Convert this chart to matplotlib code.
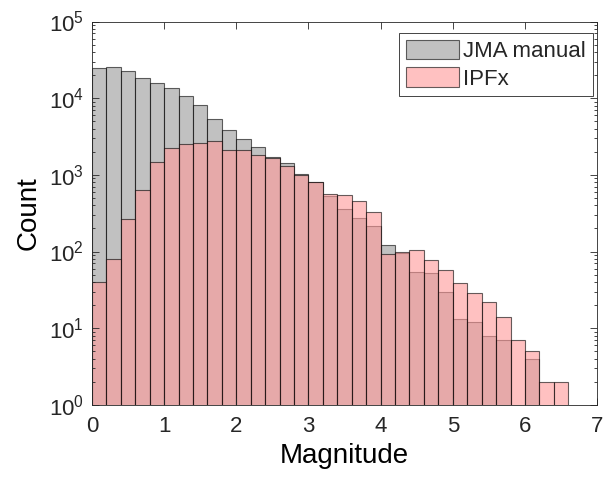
import numpy as np
import matplotlib.pyplot as plt
import matplotlib as mpl
from matplotlib.ticker import LogLocator, NullFormatter

mpl.rcParams.update({
    "font.family": ["Liberation Sans", "DejaVu Sans"],
    "mathtext.fontset": "custom",
    "mathtext.rm": "Liberation Sans",
    "mathtext.default": "regular",
    "axes.edgecolor": "#262626",
    "xtick.color": "#262626",
    "ytick.color": "#262626",
    "text.color": "#262626",
})

# histogram bins: 0.0 .. 6.6 in steps of 0.2
bin_width = 0.2
bin_left = np.round(np.arange(0.0, 6.6 - 1e-9, bin_width), 1)

# counts per bin
jma_counts = [24400, 25400, 22500, 18600, 15700, 13700, 10600, 8200, 5400, 3900,
              2960, 2280, 1700, 1425, 1020, 800, 535, 358, 274, 215,
              122, 95, 54, 52, 30, 13, 12, 8, 7, 0,
              4, 0, 0]
ipfx_counts = [40, 81, 268, 641, 1450, 2250, 2560, 2600, 2750, 2140,
               2120, 1830, 1640, 1290, 1000, 810, 565, 550, 450, 327,
               94, 100, 105, 78, 57, 39, 29, 22, 14, 7,
               5, 2, 2]

labels = ["JMA manual", "IPFx"]
face_colors = [(0.6, 0.6, 0.6, 0.6), (1.0, 0.6, 0.6, 0.6)]
edge_color = (0.0, 0.0, 0.0, 0.6)


def main():
    fig = plt.figure(figsize=(6.05, 4.78), dpi=100)
    ax = fig.add_axes([0.152, 0.153, 0.835, 0.802])
    ax.set_yscale("log", nonpositive="clip")

    for counts, lab, fc in zip([jma_counts, ipfx_counts], labels, face_colors):
        counts = np.asarray(counts, dtype=float)
        keep = counts > 0
        ax.bar(bin_left[keep], counts[keep], width=bin_width, align="edge",
               facecolor=fc, edgecolor=edge_color, linewidth=0.8, label=lab)

    ax.set_xlim(0, 7)
    ax.set_ylim(1, 1e5)
    ax.set_xticks(range(0, 8))
    ax.set_yticks([1e0, 1e1, 1e2, 1e3, 1e4, 1e5])
    ax.yaxis.set_minor_locator(LogLocator(base=10, subs=np.arange(2, 10)))
    ax.yaxis.set_minor_formatter(NullFormatter())

    ax.tick_params(which="both", direction="in", top=True, right=True,
                   labelsize=16, width=0.6)
    ax.tick_params(which="major", length=5)
    ax.tick_params(which="minor", length=2.5)
    ax.tick_params(axis="x", which="major", pad=8)
    ax.tick_params(axis="y", which="major", pad=6)
    for sp in ax.spines.values():
        sp.set_linewidth(0.6)

    ax.set_xlabel("Magnitude", fontsize=20, labelpad=4)
    ax.set_ylabel("Count", fontsize=20, labelpad=5)

    leg = ax.legend(loc="upper right", bbox_to_anchor=(0.9915, 0.970),
                    borderaxespad=0, fontsize=16, frameon=True, fancybox=False,
                    framealpha=1, edgecolor="#262626", handlelength=2.4,
                    handleheight=0.95, handletextpad=0.2, labelspacing=0.25,
                    borderpad=0.3)
    leg.get_frame().set_linewidth(0.6)

    fig.savefig("out.png", dpi=100)
    plt.close(fig)


if __name__ == "__main__":
    main()
